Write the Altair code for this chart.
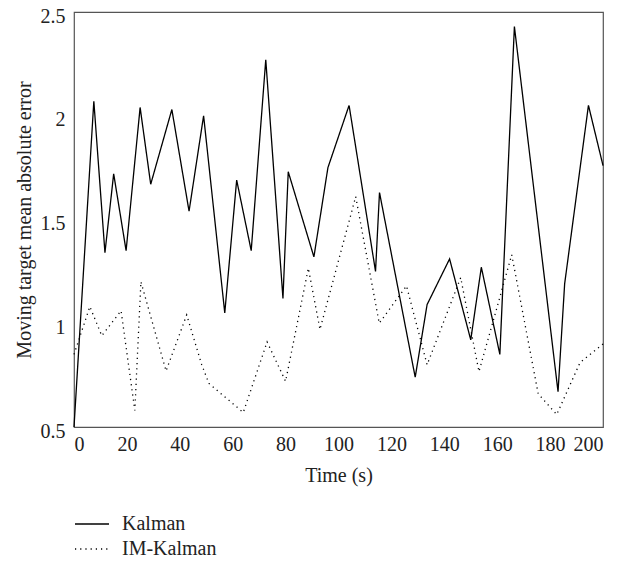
import altair as alt
import pandas as pd

kalman_x = [0, 7.5, 11.7, 15, 19.7, 25, 29, 37, 43.5, 49, 57, 61.5, 67, 72.5, 79, 81,
            90.7, 96, 104, 114, 115.5, 129, 133.5, 142, 150, 154, 161, 166.5, 183,
            185.5, 194.5, 200]
kalman_y = [0.5, 2.07, 1.34, 1.72, 1.35, 2.04, 1.67, 2.03, 1.54, 2.0, 1.05, 1.69, 1.35,
            2.27, 1.12, 1.73, 1.32, 1.75, 2.05, 1.25, 1.63, 0.74, 1.09, 1.31, 0.92,
            1.27, 0.85, 2.43, 0.67, 1.19, 2.05, 1.76]

im_x = [0, 6, 10.5, 17.8, 23, 25.3, 34.8, 42.6, 48.3, 51, 64, 73, 80, 88.6, 93,
        106.5, 115.4, 125.7, 133.5, 146.2, 153.1, 165.5, 175.5, 182.5, 191.3, 200]
im_y = [0.85, 1.08, 0.94, 1.06, 0.58, 1.2, 0.77, 1.04, 0.8, 0.71, 0.57, 0.91, 0.72,
        1.265, 0.97, 1.61, 1.0, 1.18, 0.8, 1.22, 0.767, 1.33, 0.66, 0.56, 0.81, 0.9]

series_names = ["Kalman", "IM-Kalman"]
x_ticks = [0, 20, 40, 60, 80, 100, 120, 140, 160, 180, 200]
y_ticks = [0.5, 1, 1.5, 2, 2.5]

df = pd.concat([
    pd.DataFrame({"t": kalman_x, "v": kalman_y, "s": series_names[0], "o": range(len(kalman_x))}),
    pd.DataFrame({"t": im_x, "v": im_y, "s": series_names[1], "o": range(len(im_x))}),
])

FONT = "Liberation Serif"

chart = alt.Chart(df).mark_line(color="black", strokeWidth=1.3).encode(
    x=alt.X("t:Q", scale=alt.Scale(domain=[0, 200], nice=False),
            axis=alt.Axis(title="Time (s)", values=x_ticks,
                          grid=False, ticks=False, domain=False, labelPadding=7,
                          titlePadding=11)),
    y=alt.Y("v:Q", scale=alt.Scale(domain=[0.5, 2.5], nice=False, zero=False),
            axis=alt.Axis(title="Moving target mean absolute error", values=y_ticks,
                          format="~g", grid=False, ticks=False, domain=False, labelPadding=9,
                          titlePadding=6, labelOffset=4)),
    strokeDash=alt.StrokeDash("s:N", scale=alt.Scale(domain=series_names, range=[[1, 0], [1.2, 4]]),
                              legend=alt.Legend(title=None, orient="none", legendX=3.5, legendY=497.5,
                                                symbolSize=729, symbolStrokeColor="black",
                                                symbolStrokeWidth=1.3, symbolType="M-1.26,0H1.26",
                                                labelFontSize=20, labelFont=FONT, rowPadding=0,
                                                labelOffset=15.5, labelColor="#222222")),
    order="o:Q",
).properties(
    width=529, height=415,
    autosize=alt.AutoSizeParams(type="none"),
    padding={"left": 66, "top": 4, "right": 7, "bottom": 130},
).configure_view(
    stroke="#555555", strokeWidth=1.2
).configure_axis(
    labelFont=FONT, titleFont=FONT, labelFontSize=20, titleFontSize=20,
    titleFontWeight="normal", labelColor="#222222", titleColor="#222222"
)

chart.save("out.html", embed_options={"renderer": "svg", "actions": False})
